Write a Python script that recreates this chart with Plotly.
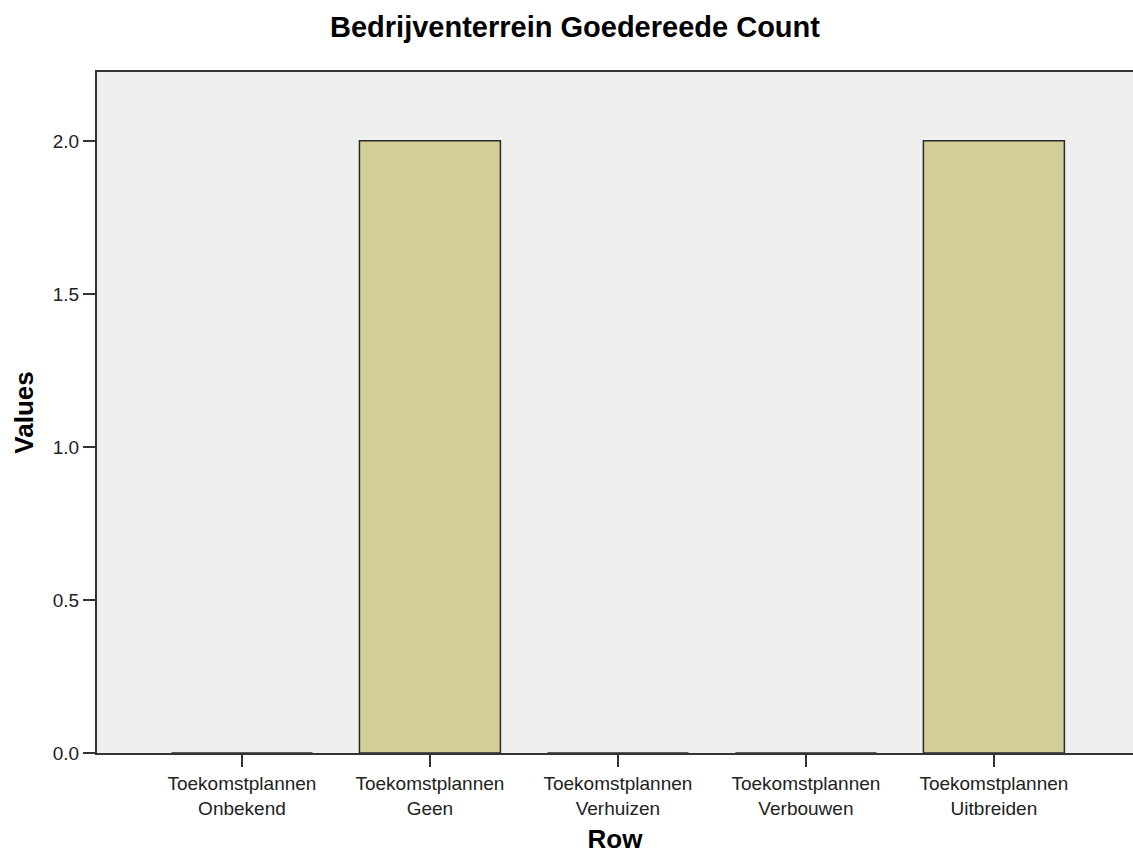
import plotly.graph_objects as go

categories = [
    "Toekomstplannen<br>Onbekend",
    "Toekomstplannen<br>Geen",
    "Toekomstplannen<br>Verhuizen",
    "Toekomstplannen<br>Verbouwen",
    "Toekomstplannen<br>Uitbreiden",
]
values = [0, 2, 0, 0, 2]
y_ticks = [0.0, 0.5, 1.0, 1.5, 2.0]

FONT = "Liberation Sans, Arial, sans-serif"
AXIS_COLOR = "#333333"

fig = go.Figure(
    go.Bar(
        x=list(range(len(categories))),
        y=values,
        width=0.75,
        marker=dict(color="#D3CE98", line=dict(color="#2a2a2a", width=1.5)),
        hoverinfo="x+y",
    )
)

fig.update_layout(
    width=1133,
    height=854,
    paper_bgcolor="white",
    plot_bgcolor="#EFEFEF",
    margin=dict(l=97, r=0, t=72, b=101, autoexpand=False),
    showlegend=False,
    font=dict(family=FONT, color="#222222", size=18),
    title=dict(
        text="<b>Bedrijventerrein Goedereede Count</b>",
        x=0.5075,
        xref="container",
        xanchor="center",
        y=0.968,
        yref="container",
        yanchor="middle",
        font=dict(family=FONT, size=29, color="#000000"),
    ),
)

fig.update_xaxes(
    range=[-0.771, 4.74],
    tickmode="array",
    tickvals=list(range(len(categories))),
    ticktext=categories,
    showgrid=False,
    zeroline=False,
    showline=True,
    linecolor=AXIS_COLOR,
    linewidth=2,
    mirror=True,
    ticks="outside",
    ticklen=12,
    tickwidth=2,
    tickcolor=AXIS_COLOR,
    automargin=True,
    tickfont=dict(family=FONT, size=19, color="#222222"),
    title=dict(text="<b>Row</b>", font=dict(family=FONT, size=26, color="#000000"), standoff=12),
)

fig.update_yaxes(
    range=[0, 2.225],
    tickmode="array",
    tickvals=y_ticks,
    ticktext=[f"{v:.1f}" for v in y_ticks],
    showgrid=False,
    zeroline=False,
    showline=True,
    linecolor=AXIS_COLOR,
    linewidth=2,
    mirror=False,
    ticks="outside",
    ticklen=12,
    tickwidth=2,
    tickcolor=AXIS_COLOR,
    automargin=False,
    tickfont=dict(family=FONT, size=19, color="#222222"),
    title=dict(text="<b>Values</b>", font=dict(family=FONT, size=26, color="#000000"), standoff=12),
)

fig.write_html(
    "out.html",
    config={"displayModeBar": False},
    post_script="document.body.style.margin='0';document.body.style.overflow='hidden';",
)
